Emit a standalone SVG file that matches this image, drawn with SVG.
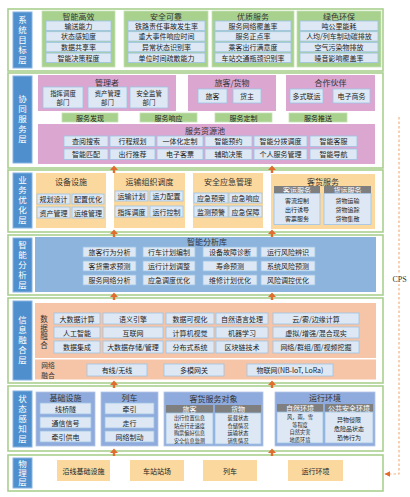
<svg xmlns="http://www.w3.org/2000/svg" width="410" height="497" viewBox="0 0 410 497">
<defs>
<style>
text{font-family:"Noto Sans CJK SC","Noto Sans CJK JP",sans-serif;text-anchor:middle;dominant-baseline:central;fill:#222}
.lay{fill:#fff;stroke:#a9d08e;stroke-width:1.6}
.lbl{fill:#4f8fce;stroke:#86b4e0;stroke-width:1}
.lt{fill:#fff;font-size:8.5px;writing-mode:vertical-rl;letter-spacing:1.5px}
.vt{font-size:7.5px;fill:#333;writing-mode:vertical-rl;letter-spacing:1px}
.it{fill:#dde8f4;stroke:#9dc3e6;stroke-width:0.8}
.t{font-size:7px}
.t2{font-size:6.4px}
.t3{font-size:6px}
.h{font-size:8px;fill:#333}
.grn{fill:#a9d18e;stroke:#c5e0b3;stroke-width:0.8}
.pink{fill:#dba6cf}
.org{fill:#fad89e}
.blu{fill:#8db4dd}
.sal{fill:#f6c4a6}
.pur{fill:#8faadc;stroke:#b4c6e7;stroke-width:0.8}
.gry{fill:#7f7f7f}
.gt{fill:#fff;font-size:7px}
.ylw{fill:#fad89e}
.s{font-size:5.2px}
.arr{fill:#e06c2e}
</style>
<marker id="ah" viewBox="0 0 10 10" refX="9" refY="5" markerWidth="5" markerHeight="5" orient="auto"><path d="M0,0 L10,5 L0,10 z" fill="#e06c2e"/></marker>
</defs>
<rect width="410" height="497" fill="#fff"/>

<!-- Layer 1 -->
<g id="layer-goal">
<rect class="lay" x="8" y="9" width="375" height="62"/>
<rect class="lbl" x="13" y="12" width="19" height="56"/>
<text class="lt" x="22.5" y="41">系统目标层</text>
</g>
<g id="goal-efficient">
<rect class="grn" x="42" y="11" width="73" height="56"/>
<text class="h" x="78.5" y="16">智能高效</text>
<rect class="it" x="46" y="21" width="65" height="9.4"/><text class="t" x="78.5" y="25.7">输送能力</text>
<rect class="it" x="46" y="31.7" width="65" height="9.4"/><text class="t" x="78.5" y="36.4">状态感知度</text>
<rect class="it" x="46" y="42.4" width="65" height="9.4"/><text class="t" x="78.5" y="47.1">数据共享率</text>
<rect class="it" x="46" y="53.1" width="65" height="9.4"/><text class="t" x="78.5" y="57.8">智能决策程度</text>
</g>
<g id="goal-safe">
<rect class="grn" x="124" y="11" width="84" height="56"/>
<text class="h" x="166" y="16">安全可靠</text>
<rect class="it" x="128" y="21" width="77" height="9.4"/><text class="t" x="166.5" y="25.7">铁路责任事故发生率</text>
<rect class="it" x="128" y="31.7" width="77" height="9.4"/><text class="t" x="166.5" y="36.4">重大事件响应时间</text>
<rect class="it" x="128" y="42.4" width="77" height="9.4"/><text class="t" x="166.5" y="47.1">异常状态识别率</text>
<rect class="it" x="128" y="53.1" width="77" height="9.4"/><text class="t" x="166.5" y="57.8">单位时间疏散能力</text>
</g>
<g id="goal-service">
<rect class="grn" x="212" y="11" width="82" height="56"/>
<text class="h" x="253" y="16">优质服务</text>
<rect class="it" x="215" y="21" width="76" height="9.4"/><text class="t" x="253" y="25.7">服务网络覆盖率</text>
<rect class="it" x="215" y="31.7" width="76" height="9.4"/><text class="t" x="253" y="36.4">服务正点率</text>
<rect class="it" x="215" y="42.4" width="76" height="9.4"/><text class="t" x="253" y="47.1">乘客出行满意度</text>
<rect class="it" x="215" y="53.1" width="76" height="9.4"/><text class="t" x="253" y="57.8">车站交通瓶颈识别率</text>
</g>
<g id="goal-green">
<rect class="grn" x="297" y="11" width="84" height="56"/>
<text class="h" x="339" y="16">绿色环保</text>
<rect class="it" x="300" y="21" width="78" height="9.4"/><text class="t" x="339" y="25.7">吨公里能耗</text>
<rect class="it" x="300" y="31.7" width="78" height="9.4"/><text class="t" x="339" y="36.4">人均/列车制动碳排放</text>
<rect class="it" x="300" y="42.4" width="78" height="9.4"/><text class="t" x="339" y="47.1">空气污染物排放</text>
<rect class="it" x="300" y="53.1" width="78" height="9.4"/><text class="t" x="339" y="57.8">噪音影响覆盖率</text>
</g>

<!-- Layer 2 -->
<g id="layer-coop">
<rect class="lay" x="8" y="73" width="375" height="95"/>
<rect class="lbl" x="13" y="76" width="19" height="87"/>
<text class="lt" x="22.5" y="120">协同服务层</text>
</g>
<g id="manager">
<rect class="pink" x="38" y="75" width="138" height="36"/>
<text class="h" x="107" y="82">管理者</text>
<rect class="it" x="43" y="87" width="40" height="21"/><text class="t t2"><tspan x="63" y="92.8">指挥调度</tspan><tspan x="63" y="102.2">部门</tspan></text>
<rect class="it" x="88" y="87" width="39" height="21"/><text class="t t2"><tspan x="107.5" y="92.8">资产管理</tspan><tspan x="107.5" y="102.2">部门</tspan></text>
<rect class="it" x="130" y="87" width="38" height="21"/><text class="t t2"><tspan x="149" y="92.8">安全监管</tspan><tspan x="149" y="102.2">部门</tspan></text>
</g>
<g id="passenger-cargo">
<rect class="pink" x="188" y="75" width="88" height="36"/>
<text class="h" x="232" y="82">旅客/货物</text>
<rect class="it" x="198" y="89" width="29" height="14"/><text class="t" x="212.5" y="96">旅客</text>
<rect class="it" x="233" y="89" width="28" height="14"/><text class="t" x="247" y="96">货主</text>
</g>
<g id="partner">
<rect class="pink" x="286" y="75" width="89" height="36"/>
<text class="h" x="330.5" y="82">合作伙伴</text>
<rect class="it" x="290" y="89" width="33" height="14"/><text class="t" x="306.5" y="96">多式联运</text>
<rect class="it" x="333" y="89" width="37" height="14"/><text class="t" x="351.5" y="96">电子商务</text>
</g>
<g id="service-bars">
<rect class="grn" x="62" y="113" width="56" height="9"/><text class="t" x="90" y="117.5">服务发现</text>
<rect class="grn" x="140" y="113" width="57" height="9"/><text class="t" x="168.5" y="117.5">服务响应</text>
<rect class="grn" x="215" y="113" width="57" height="9"/><text class="t" x="243.5" y="117.5">服务定制</text>
<rect class="grn" x="289" y="113" width="58" height="9"/><text class="t" x="318" y="117.5">服务推送</text>
</g>
<g id="service-pool">
<rect class="pink" x="38" y="124" width="337" height="40"/>
<text class="h" x="205" y="130">服务资源池</text>
<rect class="it" x="64" y="136" width="44" height="10.5"/><text class="t" x="86" y="141.2">查阅搜索</text>
<rect class="it" x="110" y="136" width="45" height="10.5"/><text class="t" x="132.5" y="141.2">行程规划</text>
<rect class="it" x="157" y="136" width="46" height="10.5"/><text class="t" x="180" y="141.2">一体化定制</text>
<rect class="it" x="205" y="136" width="47" height="10.5"/><text class="t" x="228.5" y="141.2">智能预约</text>
<rect class="it" x="254" y="136" width="53" height="10.5"/><text class="t" x="280.5" y="141.2">智能分拨调度</text>
<rect class="it" x="310" y="136" width="47" height="10.5"/><text class="t" x="333.5" y="141.2">智能客服</text>
<rect class="it" x="64" y="149" width="44" height="10.5"/><text class="t" x="86" y="154.2">智能匹配</text>
<rect class="it" x="110" y="149" width="45" height="10.5"/><text class="t" x="132.5" y="154.2">出行推荐</text>
<rect class="it" x="157" y="149" width="46" height="10.5"/><text class="t" x="180" y="154.2">电子客票</text>
<rect class="it" x="205" y="149" width="47" height="10.5"/><text class="t" x="228.5" y="154.2">辅助决策</text>
<rect class="it" x="254" y="149" width="53" height="10.5"/><text class="t" x="280.5" y="154.2">个人服务管理</text>
<rect class="it" x="310" y="149" width="47" height="10.5"/><text class="t" x="333.5" y="154.2">智能导航</text>
</g>

<!-- Layer 3 -->
<g id="layer-biz">
<rect class="lay" x="8" y="170" width="375" height="62"/>
<rect class="lbl" x="13" y="173" width="19" height="55"/>
<text class="lt" x="22.5" y="201">业务优化层</text>
</g>
<g id="equipment">
<rect class="org" x="36" y="173" width="70" height="55"/>
<text class="h" x="71" y="181">设备设施</text>
<rect class="it" x="37" y="194" width="33" height="10"/><text class="t" x="53.5" y="199">规划设计</text>
<rect class="it" x="72" y="194" width="32" height="10"/><text class="t" x="88" y="199">配置优化</text>
<rect class="it" x="37" y="207" width="33" height="11"/><text class="t" x="53.5" y="212.5">资产管理</text>
<rect class="it" x="72" y="207" width="32" height="11"/><text class="t" x="88" y="212.5">运维管理</text>
</g>
<g id="transport">
<rect class="org" x="114" y="173" width="71" height="55"/>
<text class="h" x="149.5" y="181">运输组织调度</text>
<rect class="it" x="115" y="191" width="33" height="10"/><text class="t" x="131.5" y="196">运输计划</text>
<rect class="it" x="150" y="191" width="33" height="10"/><text class="t" x="166.5" y="196">运力配置</text>
<rect class="it" x="115" y="206" width="33" height="11"/><text class="t" x="131.5" y="211.5">指挥调度</text>
<rect class="it" x="150" y="206" width="33" height="11"/><text class="t" x="166.5" y="211.5">运行控制</text>
</g>
<g id="emergency">
<rect class="org" x="193" y="173" width="70" height="55"/>
<text class="h" x="228" y="181">安全应急管理</text>
<rect class="it" x="194" y="193" width="34" height="10"/><text class="t" x="211" y="198">应急预案</text>
<rect class="it" x="229" y="193" width="33" height="10"/><text class="t" x="245.5" y="198">应急响应</text>
<rect class="it" x="194" y="206" width="34" height="11"/><text class="t" x="211" y="211.5">监测预警</text>
<rect class="it" x="229" y="206" width="33" height="11"/><text class="t" x="245.5" y="211.5">应急保障</text>
</g>
<g id="pc-service">
<rect class="org" x="271" y="174" width="104" height="55"/>
<text class="h" x="323" y="181">客货服务</text>
<rect class="gry" x="274" y="186" width="46" height="7.5"/><text class="gt" x="297" y="189.8">客运服务</text>
<rect class="it" x="274" y="193.5" width="46" height="31"/>
<text class="t t3"><tspan x="297" y="200.2">客流控制</tspan><tspan x="297" y="209">出行诱导</tspan><tspan x="297" y="217.8">客票服务</tspan></text>
<rect class="gry" x="324" y="186" width="47" height="7.5"/><text class="gt" x="347.5" y="189.8">货运服务</text>
<rect class="it" x="324" y="193.5" width="47" height="31"/>
<text class="t t3"><tspan x="347.5" y="200.2">货物运输</tspan><tspan x="347.5" y="209">货物追踪</tspan><tspan x="347.5" y="217.8">货物集散</tspan></text>
</g>

<!-- Layer 4 -->
<g id="layer-analysis">
<rect class="lay" x="8" y="235" width="375" height="60"/>
<rect class="lbl" x="13" y="238" width="19" height="54"/>
<text class="lt" x="22.5" y="265.5">智能分析层</text>
</g>
<g id="analysis-lib">
<rect class="blu" x="35" y="237" width="341" height="55"/>
<text class="h" x="207" y="241">智能分析库</text>
<rect class="it" x="83" y="247" width="53" height="10"/><text class="t" x="109.5" y="252">旅客行为分析</text>
<rect class="it" x="143" y="247" width="52" height="10"/><text class="t" x="169" y="252">行车计划编制</text>
<rect class="it" x="203" y="247" width="54" height="10"/><text class="t" x="230" y="252">设备故障诊断</text>
<rect class="it" x="261" y="247" width="54" height="10"/><text class="t" x="288" y="252">运行风险辨识</text>
<rect class="it" x="83" y="261" width="53" height="10"/><text class="t" x="109.5" y="266">客货需求预测</text>
<rect class="it" x="143" y="261" width="52" height="10"/><text class="t" x="169" y="266">运行计划调整</text>
<rect class="it" x="203" y="261" width="54" height="10"/><text class="t" x="230" y="266">寿命预测</text>
<rect class="it" x="261" y="261" width="54" height="10"/><text class="t" x="288" y="266">系统风险预测</text>
<rect class="it" x="83" y="275" width="53" height="10"/><text class="t" x="109.5" y="280">服务网络分析</text>
<rect class="it" x="143" y="275" width="52" height="10"/><text class="t" x="169" y="280">应急调度优化</text>
<rect class="it" x="203" y="275" width="54" height="10"/><text class="t" x="230" y="280">维修计划优化</text>
<rect class="it" x="261" y="275" width="54" height="10"/><text class="t" x="288" y="280">风险调控优化</text>
</g>

<!-- Layer 5 -->
<g id="layer-fusion">
<rect class="lay" x="8" y="298" width="375" height="85"/>
<rect class="lbl" x="13" y="301" width="19" height="79"/>
<text class="lt" x="22.5" y="341">信息融合层</text>
</g>
<g id="data-fusion">
<rect class="sal" x="35" y="303" width="341" height="55"/>
<text class="vt" x="44" y="332.5">数据融合</text>
<rect class="it" x="54" y="313" width="46" height="11"/><text class="t" x="77" y="318.5">大数据计算</text>
<rect class="it" x="103" y="313" width="60" height="11"/><text class="t" x="133" y="318.5">语义引擎</text>
<rect class="it" x="166" y="313" width="48" height="11"/><text class="t" x="190" y="318.5">数据可视化</text>
<rect class="it" x="216" y="313" width="52" height="11"/><text class="t" x="242" y="318.5">自然语言处理</text>
<rect class="it" x="273" y="313" width="86" height="11"/><text class="t" x="316" y="318.5">云/雾/边缘计算</text>
<rect class="it" x="54" y="327" width="46" height="11"/><text class="t" x="77" y="332.5">人工智能</text>
<rect class="it" x="103" y="327" width="60" height="11"/><text class="t" x="133" y="332.5">互联网</text>
<rect class="it" x="166" y="327" width="48" height="11"/><text class="t" x="190" y="332.5">计算机视觉</text>
<rect class="it" x="216" y="327" width="52" height="11"/><text class="t" x="242" y="332.5">机器学习</text>
<rect class="it" x="273" y="327" width="86" height="11"/><text class="t" x="316" y="332.5">虚拟/增强/混合现实</text>
<rect class="it" x="54" y="341" width="46" height="12"/><text class="t" x="77" y="347">数据集成</text>
<rect class="it" x="103" y="341" width="60" height="12"/><text class="t" x="133" y="347">大数据存储/管理</text>
<rect class="it" x="166" y="341" width="48" height="12"/><text class="t" x="190" y="347">分布式系统</text>
<rect class="it" x="216" y="341" width="52" height="12"/><text class="t" x="242" y="347">区块链技术</text>
<rect class="it" x="273" y="341" width="86" height="12"/><text class="t" x="316" y="347">网络/群组/图/视频挖掘</text>
</g>
<g id="net-fusion">
<rect class="sal" x="35" y="359.5" width="341" height="20"/>
<text class="h" style="font-size:6.8px"><tspan x="48" y="365">网络</tspan><tspan x="48" y="374.5">融合</tspan></text>
<rect class="it" x="87" y="364" width="60" height="12"/><text class="t" x="117" y="370">有线/无线</text>
<rect class="it" x="164" y="364" width="60" height="12"/><text class="t" x="194" y="370">多模网关</text>
<rect class="it" x="247" y="364" width="86" height="12"/><text class="t" x="290" y="370">物联网(NB-IoT, LoRa)</text>
</g>

<!-- Layer 6 -->
<g id="layer-sense">
<rect class="lay" x="8" y="386" width="375" height="65"/>
<rect class="lbl" x="13" y="391" width="19" height="56"/>
<text class="lt" x="22.5" y="420">状态感知层</text>
</g>
<g id="infra">
<rect class="pur" x="36" y="392" width="59" height="54"/>
<text class="h" x="65.5" y="397.5">基础设施</text>
<rect class="it" x="40" y="403" width="51" height="11"/><text class="t" x="65.5" y="408.5">线桥隧</text>
<rect class="it" x="40" y="417" width="51" height="11"/><text class="t" x="65.5" y="422.5">通信信号</text>
<rect class="it" x="40" y="431" width="51" height="11"/><text class="t" x="65.5" y="436.5">牵引供电</text>
</g>
<g id="train">
<rect class="pur" x="101" y="392" width="57" height="54"/>
<text class="h" x="129.5" y="397.5">列车</text>
<rect class="it" x="105" y="403" width="49" height="11"/><text class="t" x="129.5" y="408.5">牵引</text>
<rect class="it" x="105" y="417" width="49" height="11"/><text class="t" x="129.5" y="422.5">走行</text>
<rect class="it" x="105" y="431" width="49" height="11"/><text class="t" x="129.5" y="436.5">网络制动</text>
</g>
<g id="pc-object">
<rect class="pur" x="164" y="392" width="99" height="54"/>
<text class="h" x="213.5" y="398">客货服务对象</text>
<rect class="gry" x="166" y="405" width="47" height="8"/><text class="gt" x="189.5" y="409">旅客</text>
<rect class="it" x="166" y="413" width="47" height="31"/>
<text class="t s"><tspan x="189.5" y="417.2">出行位置信息</tspan><tspan x="189.5" y="424.8">站点行走速度</tspan><tspan x="189.5" y="432.4">购票偏好信息</tspan><tspan x="189.5" y="440">安全信息监测</tspan></text>
<rect class="gry" x="215" y="405" width="46" height="8"/><text class="gt" x="238" y="409">货物</text>
<rect class="it" x="215" y="413" width="46" height="31"/>
<text class="t s"><tspan x="238" y="417.2">装载状态</tspan><tspan x="238" y="424.8">仓储情况</tspan><tspan x="238" y="432.4">运输状态</tspan><tspan x="238" y="440">销售情况</tspan></text>
</g>
<g id="env">
<rect class="pur" x="275" y="392" width="100" height="54"/>
<text class="h" x="325" y="397.5">运行环境</text>
<rect class="gry" x="277" y="404" width="46" height="8"/><text class="gt" x="300" y="408">自然环境</text>
<rect class="it" x="277" y="412" width="46" height="31"/>
<text class="t s"><tspan x="300" y="416.2">风，雨，雪</tspan><tspan x="300" y="423.8">等程度</tspan><tspan x="300" y="431.4">自然灾害</tspan><tspan x="300" y="439">地质环境</tspan></text>
<rect class="gry" x="325" y="404" width="48" height="8"/><text class="gt" x="349" y="408">公共安全环境</text>
<rect class="it" x="325" y="412" width="48" height="31"/>
<text class="t t3"><tspan x="349" y="418.5">异物侵限</tspan><tspan x="349" y="427.5">危险品状态</tspan><tspan x="349" y="436.5">恐怖行为</tspan></text>
</g>

<!-- Layer 7 -->
<g id="layer-physical">
<rect class="lay" x="8" y="455" width="375" height="36"/>
<rect class="lbl" x="13" y="458" width="19" height="30"/>
<text class="lt" x="22.5" y="473.5" style="letter-spacing:0.5px">物理层</text>
</g>
<g id="phys-items">
<rect class="ylw" x="57" y="460" width="53" height="21"/><text class="t" x="83.5" y="470.5">沿线基础设施</text>
<rect class="ylw" x="130" y="460" width="54" height="21"/><text class="t" x="157" y="470.5">车站站场</text>
<rect class="ylw" x="203" y="460" width="54" height="21"/><text class="t" x="230" y="470.5">列车</text>
<rect class="ylw" x="288" y="460" width="55" height="21"/><text class="t" x="315.5" y="470.5">运行环境</text>
</g>

<!-- Connectors -->
<g id="connectors">
<g id="up-arrows" class="arr">
<path d="M110,170 L114,165.5 L118,170 L115.2,170 L115.2,173 L112.8,173 L112.8,170 Z"/>
<path d="M268,170 L272,165.5 L276,170 L273.2,170 L273.2,173 L270.8,173 L270.8,170 Z"/>
<path d="M110,234 L114,229.5 L118,234 L115.2,234 L115.2,237 L112.8,237 L112.8,234 Z"/>
<path d="M268,234 L272,229.5 L276,234 L273.2,234 L273.2,237 L270.8,237 L270.8,234 Z"/>
<path d="M110,297 L114,292.5 L118,297 L115.2,297 L115.2,300 L112.8,300 L112.8,297 Z"/>
<path d="M268,297 L272,292.5 L276,297 L273.2,297 L273.2,300 L270.8,300 L270.8,297 Z"/>
<path d="M110,385 L114,380.5 L118,385 L115.2,385 L115.2,388 L112.8,388 L112.8,385 Z"/>
<path d="M268,385 L272,380.5 L276,385 L273.2,385 L273.2,388 L270.8,388 L270.8,385 Z"/>
<path d="M110,453 L114,448.5 L118,453 L115.2,453 L115.2,456 L112.8,456 L112.8,453 Z"/>
<path d="M268,453 L272,448.5 L276,453 L273.2,453 L273.2,456 L270.8,456 L270.8,453 Z"/>
</g>
<path id="cps-loop" d="M399,117 V474 H385" fill="none" stroke="#f4b183" stroke-width="1.2" stroke-dasharray="2.5,2" marker-end="url(#ah)"/>
<rect x="392" y="273" width="15" height="11" fill="#fff"/>
<text x="399.5" y="279" style="font-family:'Liberation Serif',serif;font-size:8px;fill:#333">CPS</text>
</g>
</svg>
